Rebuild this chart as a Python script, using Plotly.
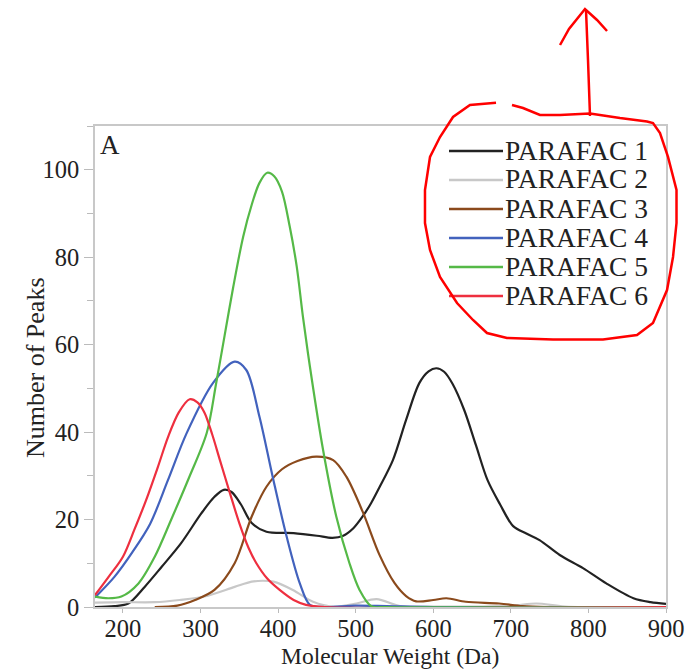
import plotly.graph_objects as go

# ---- data ----
names = ["PARAFAC 1", "PARAFAC 2", "PARAFAC 3", "PARAFAC 4", "PARAFAC 5", "PARAFAC 6"]
colors = ["#222222", "#c8c8c8", "#8b4a1c", "#4262bd", "#55b947", "#ee2f3f"]

x1 = [164, 189, 207, 228, 250, 275, 301, 318, 330, 340, 352, 366, 385, 420, 450, 470, 484, 497, 509, 520, 531, 548, 565, 582, 594, 604, 614, 625, 640, 655, 670, 686, 703, 720, 737, 763, 793, 823, 858, 880, 900]
y1 = [0, 0.2, 0.8, 4.6, 9.2, 14.6, 21.4, 25.2, 26.8, 26.3, 23.5, 19.2, 17.2, 16.9, 16.3, 15.8, 16.3, 18, 20.7, 23.8, 27.5, 33.6, 42.8, 51.2, 53.9, 54.6, 53.8, 51, 45, 37, 29, 23.5, 18.5, 16.8, 15.3, 11.9, 8.9, 5.4, 2, 1.1, 0.7]

x2 = [164, 200, 241, 273, 305, 344, 366, 380, 394, 419, 445, 471, 501, 527, 557, 600, 700, 733, 770, 900]
y2 = [1, 1.1, 1.1, 1.6, 2.4, 4.6, 5.8, 6, 5.8, 3.9, 1.2, 0.1, 0.8, 1.8, 0.2, 0.1, 0.3, 0.8, 0.1, 0]

x3 = [241, 270, 293, 318, 344, 366, 385, 405, 425, 449, 471, 488, 509, 531, 550, 565, 578, 600, 617, 642, 685, 715, 750, 900]
y3 = [0, 0.3, 1.6, 3.9, 10, 20.7, 27.5, 31.5, 33.4, 34.4, 33.6, 29.8, 21.8, 11.8, 5.5, 2.5, 1.3, 1.6, 2, 1.2, 0.8, 0.2, 0, 0]

x4 = [164, 189, 212, 235, 258, 282, 316, 344, 359, 376, 393, 411, 428, 441, 460, 500, 540, 600, 900]
y4 = [2.2, 6.9, 12.5, 19, 29, 39.7, 51.2, 56.1, 54.2, 43.5, 29.8, 16.1, 5.4, 0.5, 0, 0.3, 0.2, 0, 0]

x5 = [164, 181, 198, 220, 241, 262, 285, 308, 320, 331, 342, 355, 366, 376, 386, 395, 405, 415, 424, 432, 441, 458, 475, 492, 505, 520, 540, 900]
y5 = [2.4, 2, 2.4, 5.4, 11.5, 19.9, 29.5, 39.8, 51, 62, 73, 84.7, 92, 97, 99.3, 98.5, 95, 87, 77.9, 66.4, 55, 35.9, 20.7, 10, 3.9, 0.2, 0, 0]

x6 = [164, 182, 200, 215, 230, 245, 258, 272, 286, 296, 305, 315, 325, 338, 350, 362, 372, 386, 402, 420, 436, 460, 900]
y6 = [2.7, 7, 11.5, 17.8, 24.5, 32, 38.8, 44.5, 47.5, 46.8, 44.5, 39.5, 33.6, 26, 19.2, 13.5, 10, 6.5, 3.9, 1.6, 0.5, 0, 0]

xs = [x1, x2, x3, x4, x5, x6]
ys = [y1, y2, y3, y4, y5, y6]

x_ticks = [200, 300, 400, 500, 600, 700, 800, 900]
y_ticks = [0, 20, 40, 60, 80, 100]

x_title = "Molecular Weight (Da)"
y_title = "Number of Peaks"
panel_label = "A"

FONT = "Liberation Serif, Times New Roman, serif"
TXT = "#222222"

fig = go.Figure()
for n, c, xv, yv in zip(names, colors, xs, ys):
    fig.add_trace(go.Scatter(x=xv, y=yv, name=n, mode="lines", showlegend=False,
                             line=dict(color=c, width=2.2, shape="spline", smoothing=0.9)))

# ---- pixel -> paper helpers for decorations ----
L, R, T, B = 95, 666, 126, 607
def pxx(v):
    return (v - L) / (R - L)
def pxy(v):
    return (B - v) / (B - T)

def path(points):
    s = ""
    for i, (a, b) in enumerate(points):
        s += ("M" if i == 0 else " L") + " %.4f %.4f" % (pxx(a), pxy(b))
    return s

shapes = []
annotations = []

# legend drawn as line samples + text
for i, (n, c) in enumerate(zip(names, colors)):
    yy = 151 + 29 * i
    shapes.append(dict(type="line", xref="paper", yref="paper", x0=pxx(449), x1=pxx(503),
                       y0=pxy(yy), y1=pxy(yy), line=dict(color=c, width=2.4)))
    annotations.append(dict(text=n, xref="paper", yref="paper", x=pxx(503), y=pxy(yy - 1),
                            xanchor="left", yanchor="middle", showarrow=False,
                            font=dict(family=FONT, size=27.5, color=TXT)))

# hand-drawn red marking
circle = [(496, 102.7), (470, 105), (453, 117), (440, 137), (430, 157), (425, 190), (425, 223),
          (430, 250), (440, 277), (457, 303), (473, 320), (487, 333), (507, 338), (553, 339.5),
          (603, 339.5), (637, 335), (653, 323), (667, 290), (673, 257), (676.5, 223), (676.5, 190),
          (668, 157), (660, 133), (653, 123), (647, 121.5), (620, 118), (590, 113.5), (560, 115),
          (540, 115), (523, 108), (512, 105)]
shaft = [(590, 116), (588, 60), (586, 10)]
head = [(560, 45), (569, 29), (585, 9), (597, 20), (607, 31)]
for pl in (circle, shaft, head):
    shapes.append(dict(type="path", xref="paper", yref="paper", path=path(pl),
                       line=dict(color="#ff0000", width=2.5)))

annotations.append(dict(text=panel_label, xref="paper", yref="paper", x=pxx(98), y=pxy(128),
                        xanchor="left", yanchor="top", showarrow=False,
                        font=dict(family=FONT, size=27, color=TXT)))
annotations.append(dict(text=x_title, xref="paper", yref="paper", x=pxx(390), y=pxy(656),
                        xanchor="center", yanchor="middle", showarrow=False,
                        font=dict(family=FONT, size=23.5, color=TXT)))
annotations.append(dict(text=y_title, xref="paper", yref="paper", x=pxx(35), y=pxy(368),
                        xanchor="center", yanchor="middle", showarrow=False, textangle=-90,
                        font=dict(family=FONT, size=26, color=TXT)))

fig.update_layout(
    width=696, height=671,
    margin=dict(l=L, r=696 - R, t=T, b=671 - B, autoexpand=False),
    paper_bgcolor="white", plot_bgcolor="white",
    font=dict(family=FONT, size=24.5, color=TXT),
    showlegend=False,
    shapes=shapes,
    annotations=annotations,
)
fig.update_xaxes(range=[164, 900], tickvals=x_ticks, ticks="outside", ticklen=4,
                 ticklabelstandoff=-5,
                 tickcolor="#bbbbbb", showline=True, linecolor="#c8c8c8", linewidth=1.5,
                 mirror=True, showgrid=False, zeroline=False,
                 tickfont=dict(family=FONT, size=24.5, color=TXT))
fig.update_yaxes(range=[0, 110], tickvals=y_ticks, ticks="outside", ticklen=9,
                 tickcolor="#bbbbbb", showline=True, linecolor="#c8c8c8", linewidth=1.5,
                 mirror=True, showgrid=False, zeroline=False,
                 minor=dict(dtick=10, ticks="outside", ticklen=6, tickcolor="#bbbbbb", showgrid=False),
                 tickfont=dict(family=FONT, size=24.5, color=TXT))

fig.write_html("out.html", config={"displayModeBar": False},
               post_script="document.body.style.margin='0';document.body.style.overflow='hidden';")
